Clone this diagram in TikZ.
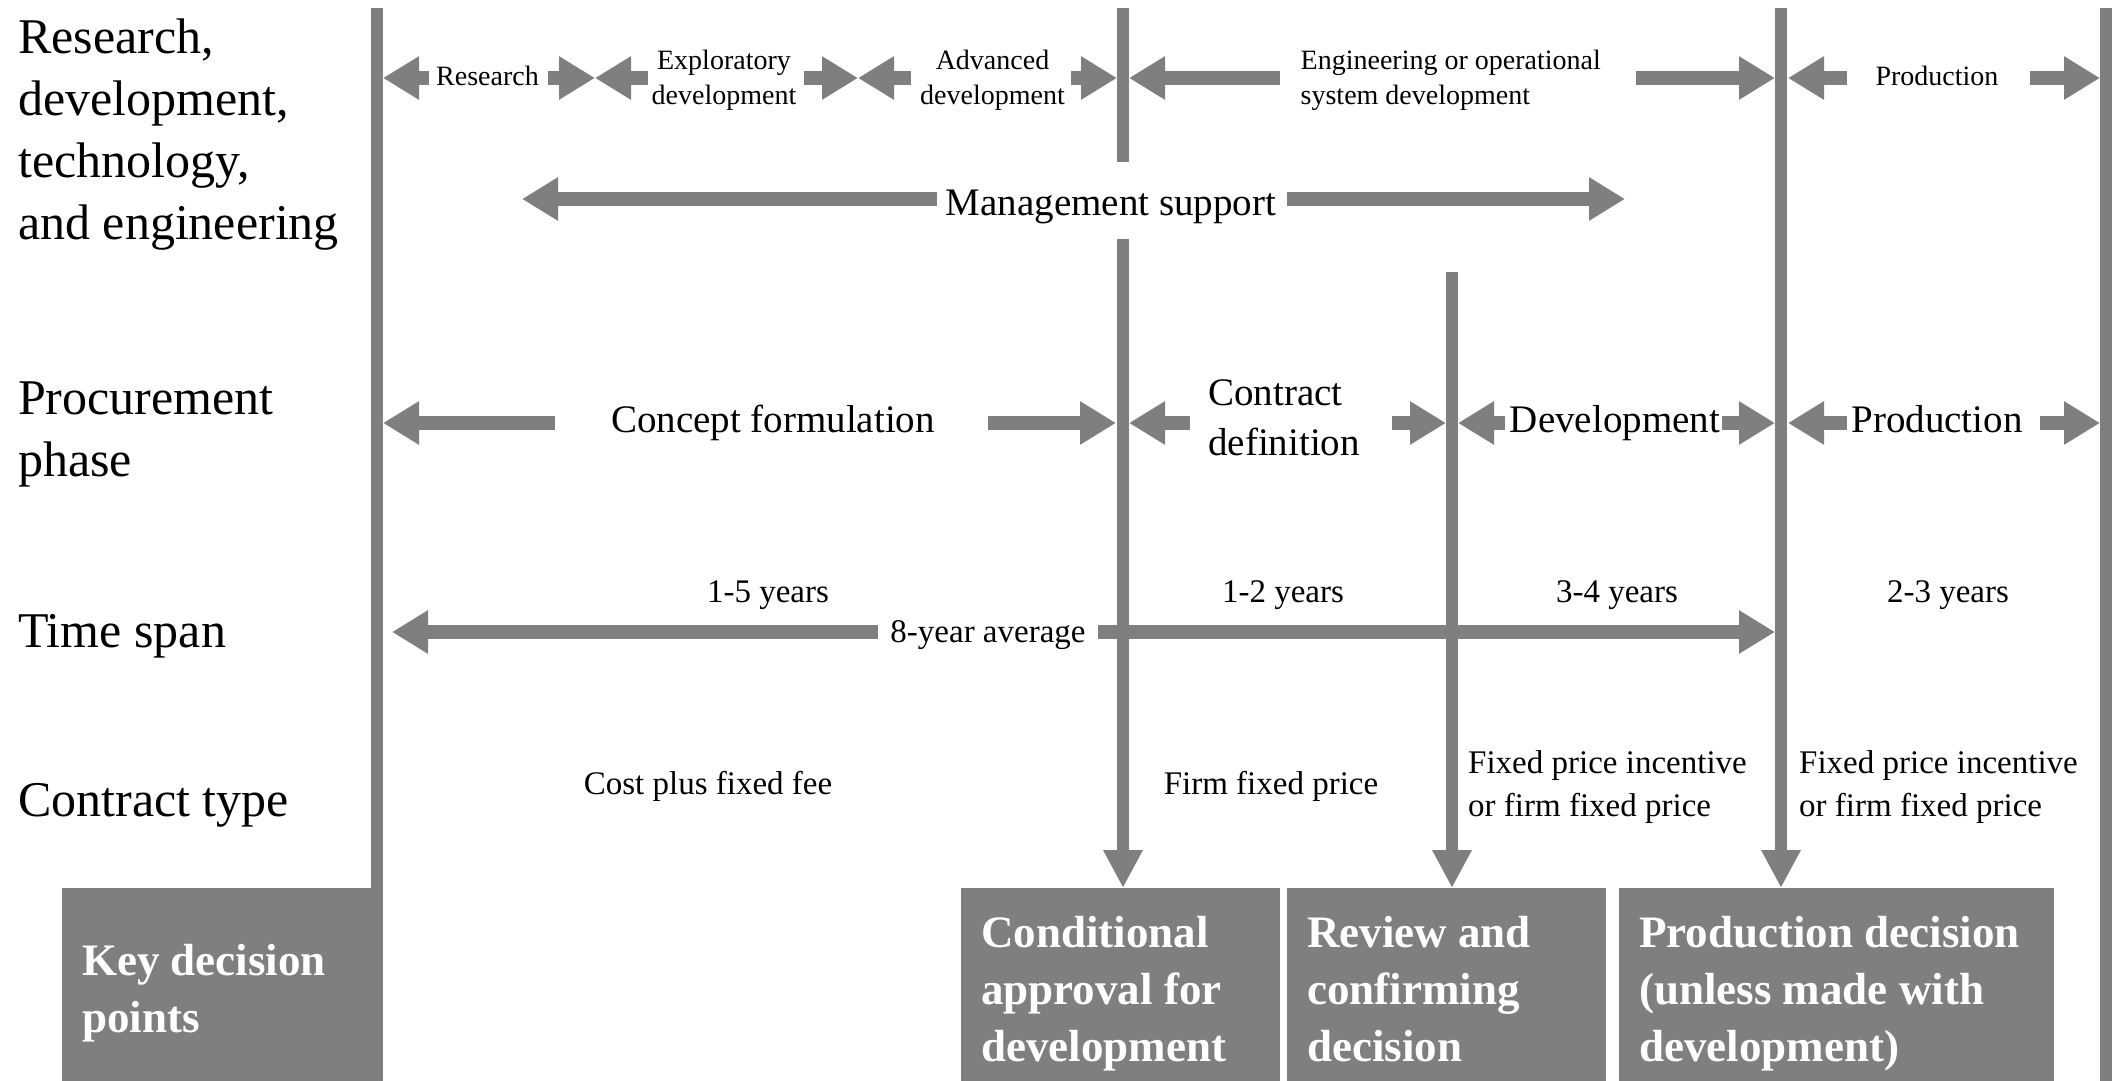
\documentclass[tikz,border=0pt]{standalone}
\usepackage{fontspec}
\setmainfont{Liberation Serif}
\usetikzlibrary{arrows.meta}
\definecolor{bargray}{RGB}{127,127,127}
\begin{document}
\begin{tikzpicture}[x=1pt,y=-1pt,
  lbl/.style={font=\fontsize{50}{62}\selectfont, align=left, anchor=base west, inner sep=0pt},
  smtxt/.style={font=\fontsize{28}{35}\selectfont, align=center, anchor=base, inner sep=0pt},
  mdtxt/.style={font=\fontsize{39}{50}\selectfont, align=center, anchor=base, inner sep=0pt},
  tstxt/.style={font=\fontsize{33}{43}\selectfont, align=center, anchor=base, inner sep=0pt},
  bxtxt/.style={font=\fontsize{45}{57}\selectfont\bfseries, text=white, align=left, anchor=base west, inner sep=0pt},
  dbox/.style={fill=bargray, draw=none, anchor=north west, inner sep=0pt},
  vline/.style={draw=bargray, line width=12pt},
  varr/.style={vline, -{Triangle[length=38pt,width=37pt]}},
  blk/.style={draw=bargray, line width=14pt, -{Triangle[length=36pt,width=41pt]}}]
\useasboundingbox (0,0) rectangle (2113,1081);

% ---- row labels (base anchor = baseline of the last line)
\node[lbl] (rl1) at (18,239) {Research,\\development,\\technology,\\and engineering};
\node[lbl] (rl2) at (18,476) {Procurement\\phase};
\node[lbl] (rl3) at (18,647) {Time span};
\node[lbl] (rl4) at (18,816) {Contract type};

% ---- decision boxes
\node[dbox, minimum width=321pt, minimum height=193pt] (kbox) at (62,888) {};
\node[dbox, minimum width=319pt, minimum height=193pt] (cbox) at (961,888) {};
\node[dbox, minimum width=319pt, minimum height=193pt] (rbox) at (1287,888) {};
\node[dbox, minimum width=435pt, minimum height=193pt] (pbox) at (1619,888) {};
\node[bxtxt] (ktxt) at (82,1032) {Key decision\\points};
\node[bxtxt] (ctxt) at (981,1061) {Conditional\\approval for\\development};
\node[bxtxt] (rtxt) at (1307,1061) {Review and\\confirming\\decision};
\node[bxtxt] (ptxt) at (1639,1061) {Production decision\\(unless made with\\development)};

% ---- vertical lines
\coordinate (v1t) at (377,8);
\coordinate (v1b) at (377,888);
\draw[vline] (v1t) -- (v1b);
\coordinate (v2t) at (1123,8);
\coordinate (v2u) at (1123,162);
\coordinate (v2m) at (1123,239);
\draw[vline] (v2t) -- (v2u);
\draw[varr] (v2m) -- (v2m |- cbox.north);
\coordinate (v3t) at (1452,272);
\draw[varr] (v3t) -- (v3t |- rbox.north);
\coordinate (v4t) at (1781,8);
\draw[varr] (v4t) -- (v4t |- pbox.north);
\coordinate (v5t) at (2106,8);
\coordinate (v5b) at (2106,1081);
\draw[vline] (v5t) -- (v5b);

% ---- top row: research & development categories
\node[smtxt] (tr1) at (487.5,85) {Research};
\node[smtxt] (tr2) at (724,104) {Exploratory\\development};
\node[smtxt] (tr3) at (992.5,104) {Advanced\\development};
\node[smtxt, align=left, anchor=base west] (tr4) at (1300.5,104) {Engineering or operational\\system development};
\node[smtxt] (tr5) at (1937,85) {Production};

\draw[blk] (429,78) coordinate (a1s) -- (383,78) coordinate (a1t);
\draw[blk] (548,78) coordinate (a2s) -- (595,78) coordinate (a2t);
\draw[blk] (648,78) coordinate (a3s) -- (595,78) coordinate (a3t);
\draw[blk] (804,78) coordinate (a4s) -- (858,78) coordinate (a4t);
\draw[blk] (911,78) coordinate (a5s) -- (858,78) coordinate (a5t);
\draw[blk] (1071,78) coordinate (a6s) -- (1117,78) coordinate (a6t);
\draw[blk] (1280,78) coordinate (a7s) -- (1129,78) coordinate (a7t);
\draw[blk] (1636,78) coordinate (a8s) -- (1775,78) coordinate (a8t);
\draw[blk] (1847,78) coordinate (a9s) -- (1788,78) coordinate (a9t);
\draw[blk] (2030,78) coordinate (a10s) -- (2100,78) coordinate (a10t);

% ---- management support
\node[mdtxt] (ms) at (1111,215) {Management support};
\draw[blk] (937,199) coordinate (msl) -- (522,199) coordinate (mslt);
\draw[blk] (1287,199) coordinate (msr) -- (1625,199) coordinate (msrt);

% ---- procurement phase
\node[mdtxt] (pr1) at (773,432) {Concept formulation};
\node[mdtxt, align=left, anchor=base west] (pr2) at (1208,455) {Contract\\definition};
\node[mdtxt] (pr3) at (1615,432) {Development};
\node[mdtxt] (pr4) at (1937,432) {Production};

\draw[blk] (555,423) coordinate (p1s) -- (383,423) coordinate (p1t);
\draw[blk] (988,423) coordinate (p2s) -- (1116,423) coordinate (p2t);
\draw[blk] (1190,423) coordinate (p3s) -- (1129,423) coordinate (p3t);
\draw[blk] (1392,423) coordinate (p4s) -- (1446,423) coordinate (p4t);
\draw[blk] (1505,423) coordinate (p5s) -- (1458,423) coordinate (p5t);
\draw[blk] (1722,423) coordinate (p6s) -- (1775,423) coordinate (p6t);
\draw[blk] (1847,423) coordinate (p7s) -- (1788,423) coordinate (p7t);
\draw[blk] (2040,423) coordinate (p8s) -- (2100,423) coordinate (p8t);

% ---- time span
\node[tstxt] (t1) at (768,602) {1-5 years};
\node[tstxt] (t2) at (1283,602) {1-2 years};
\node[tstxt] (t3) at (1617,602) {3-4 years};
\node[tstxt] (t4) at (1948,602) {2-3 years};
\node[tstxt] (avg) at (988,642) {8-year average};
\draw[blk] (878,632) coordinate (tls) -- (392,632) coordinate (tlt);
\draw[blk] (1098,632) coordinate (trs) -- (1775,632) coordinate (trt);

% ---- contract type
\node[tstxt] (c1) at (708,794) {Cost plus fixed fee};
\node[tstxt] (c2) at (1271,794) {Firm fixed price};
\node[tstxt, align=left, anchor=base west] (c3) at (1468,816) {Fixed price incentive\\or firm fixed price};
\node[tstxt, align=left, anchor=base west] (c4) at (1799,816) {Fixed price incentive\\or firm fixed price};
\end{tikzpicture}
\end{document}
